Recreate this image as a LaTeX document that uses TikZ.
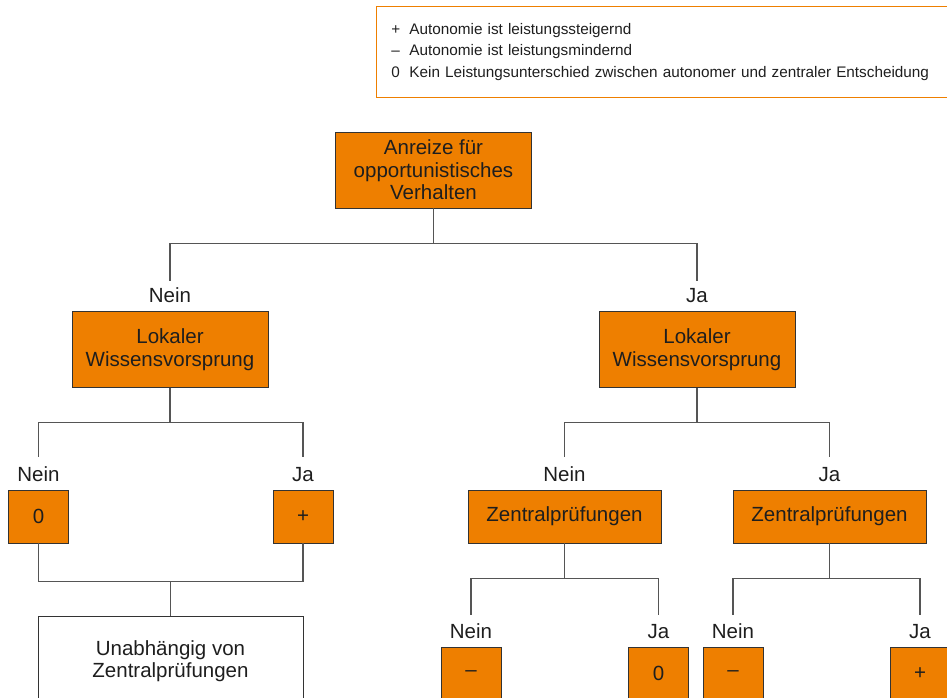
\documentclass[tikz,border=0pt]{standalone}
\usepackage{fontspec}
\setmainfont{Liberation Sans}
\usetikzlibrary{positioning}
\definecolor{boxorange}{RGB}{238,127,0}
\definecolor{linegray}{RGB}{85,85,85}
\definecolor{textdark}{RGB}{30,30,30}
\newcommand{\legsym}[1]{\makebox[18pt][l]{#1}}

\begin{document}
\begin{tikzpicture}[
    x=1pt, y=-1pt,
    every node/.style={font=\fontsize{20.5pt}{22.5pt}\selectfont, text=textdark},
    box/.style={draw=black!80, line width=0.8pt, fill=boxorange, align=center, inner sep=2pt},
    bigbox/.style={box, minimum width=196pt, minimum height=76pt},
    midbox/.style={box, minimum width=193pt, minimum height=53pt},
    leafbox/.style={box, minimum width=60pt, minimum height=53pt},
    whitebox/.style={box, fill=white, minimum width=265pt, minimum height=90pt},
    answer/.style={inner sep=1pt, text height=14pt, text depth=0pt, above=7pt of #1},
    legendbox/.style={draw=boxorange, line width=0.8pt, align=left, text width=560pt, inner xsep=15pt, minimum height=91pt, anchor=north west, font=\fontsize{15.3pt}{21.5pt}\selectfont},
    conn/.style={draw=linegray, line width=1.1pt}
]
\useasboundingbox (0,0) rectangle (947,698);
\clip (0,0) rectangle (947,698);

% legend
\node[legendbox] (legend) at (376,6) {\legsym{+}Autonomie ist leistungssteigernd\\
  \legsym{--}Autonomie ist leistungsmindernd\\
  \legsym{0}Kein Leistungsunterschied zwischen autonomer und zentraler Entscheidung};

% tree boxes
\node[bigbox] (anreiz) at (433.5,170) {Anreize für\\opportunistisches\\Verhalten};
\node[bigbox] (lokNein) at (170,349.5) {Lokaler\\Wissensvorsprung};
\node[bigbox] (lokJa) at (697,349.5) {Lokaler\\Wissensvorsprung};
\node[leafbox] (nullA) at (38.5,516.5) {0};
\node[leafbox] (plusA) at (303,516.5) {+};
\node[midbox] (zentNein) at (564.5,516.5) {Zentralprüfungen};
\node[midbox] (zentJa) at (829.5,516.5) {Zentralprüfungen};
\node[whitebox, anchor=north] (unabh) at (170.5,616) {Unabhängig von\\Zentralprüfungen};
\node[leafbox, anchor=north] (minusB) at (471,647) {--};
\node[leafbox, anchor=north] (nullB) at (658.5,647) {0};
\node[leafbox, anchor=north] (minusC) at (733,647) {--};
\node[leafbox, anchor=north] (plusC) at (920,647) {+};

% answer labels
\node[answer=lokNein] (aNein1) {Nein};
\node[answer=lokJa] (aJa1) {Ja};
\node[answer=nullA] (aNein2) {Nein};
\node[answer=plusA] (aJa2) {Ja};
\node[answer=zentNein] (aNein3) {Nein};
\node[answer=zentJa] (aJa3) {Ja};
\node[answer=minusB] (aNein4) {Nein};
\node[answer=nullB] (aJa4) {Ja};
\node[answer=minusC] (aNein5) {Nein};
\node[answer=plusC] (aJa5) {Ja};

% connectors
\draw[conn] (anreiz.south) -- ++(0,35) -| ([yshift=7pt]aNein1.north);
\draw[conn] (anreiz.south) -- ++(0,35) -| ([yshift=7pt]aJa1.north);
\draw[conn] (lokNein.south) -- ++(0,35) -| ([yshift=9pt]aNein2.north);
\draw[conn] (lokNein.south) -- ++(0,35) -| ([yshift=9pt]aJa2.north);
\draw[conn] (lokJa.south) -- ++(0,35) -| ([yshift=9pt]aNein3.north);
\draw[conn] (lokJa.south) -- ++(0,35) -| ([yshift=9pt]aJa3.north);
\draw[conn] (zentNein.south) -- ++(0,35) -| ([yshift=9pt]aNein4.north);
\draw[conn] (zentNein.south) -- ++(0,35) -| ([yshift=9pt]aJa4.north);
\draw[conn] (zentJa.south) -- ++(0,35) -| ([yshift=9pt]aNein5.north);
\draw[conn] (zentJa.south) -- ++(0,35) -| ([yshift=9pt]aJa5.north);
\draw[conn] (nullA.south) -- ++(0,38) -| (plusA.south);
\draw[conn] (unabh.north) -- ++(0,-35);
\end{tikzpicture}
\end{document}
